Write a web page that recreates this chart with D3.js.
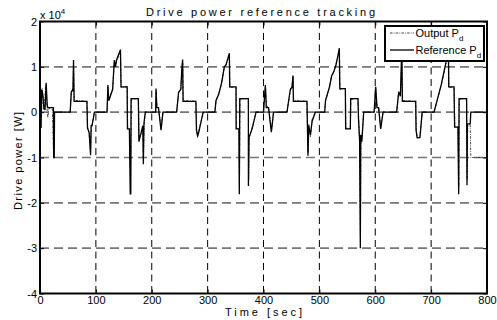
<!DOCTYPE html>
<html><head><meta charset="utf-8">
<script src="https://cdn.jsdelivr.net/npm/d3@7/dist/d3.min.js"></script>
<style>body{margin:0;background:#fff}svg{display:block}text{font-family:"Liberation Sans",Arial,sans-serif}</style>
</head><body><svg id="c" width="497" height="320"></svg>
<script>
const xTicks=[0,100,200,300,400,500,600,700,800];
const xTickLabels=["0","100","200","300","400","500","600","700","800"];
const yTicks=[-40000,-30000,-20000,-10000,0,10000,20000];
const yTickLabels=["-4","-3","-2","-1","0","1","2"];
const titleText="Drive power reference tracking";
const xLabel="Time [sec]";
const yLabel="Drive power [W]";
const seriesNames=["Output P","Reference P"];

// Reference P_d (time s, power W)
const refTime=[0,2,3,5,7,9,11,13,14,22,24,24.5,25.5,26,54,56,59,60,61,84,85,88,90.5,91.5,93,97.5,120,121.5,123,130,133,135,137,144,145,156,156.5,160,161.5,162.5,163,176,177,181,184,185,186,188.5,
207,207.6,209,212,216.6,220,244.6,248,252,254,255.3,256,279,280,282,284,292,313,315,320,325,330,333,338.9,339.5,350.8,351,356,356.7,357.5,372.9,373,374,380,386.6,
400,403.3,405,409,414,418,442,448,451,452.8,453.5,477.8,479.6,481,484,487,492.8,509.5,511,518,522,526,530,535.7,536.5,546.5,547,555.4,556,569.1,570,572,573.3,574,576,579.3,
598,600.8,603,606,609.7,614,638.3,642,645,647.5,648.5,672.4,673,675,680,684,705.2,718,731,731.5,741,742,748,749.3,750,763.5,764.2,765,770,771,800];
const refPower=[0,-3500,5000,4000,1000,500,6500,1500,1000,1000,1000,-10000,-10000,0,0,4500,5000,11500,2400,2400,-3500,-4500,-9500,-3000,-3000,0,0,6000,2500,5000,11500,10000,11500,13800,5600,5600,-3700,-3700,-18000,-18000,3000,3000,-6500,-4500,-3000,-11500,-2500,0,
0,5200,1000,1000,-4000,0,0,4400,5000,10000,11600,2400,2400,-4000,-5200,-4500,0,0,2600,4000,6500,10000,10500,13000,5600,5600,-3700,-3700,-18100,3000,3000,-16300,-5600,-3500,0,
0,6000,1000,1000,-4400,0,0,5000,5500,8100,2400,2400,-9600,-3000,-5000,-2000,0,0,2600,5500,8000,9000,10500,14100,5200,5200,-3700,-3700,3000,3000,-1500,-6300,-30000,-5000,-6500,0,
0,5600,1000,1000,-3700,0,0,4500,3500,14500,2400,2400,-4000,-5600,-5600,0,0,6000,13500,5600,5600,-3300,-3300,-18100,3000,3000,-16100,-2600,-2600,0,0];

// Output P_d (time s, power W)
const outTime=[0,1,2,4,6,8,10,12,14,16,22,24,26,54,56,59,60,61.5,84,85,88,90.5,92,97.5,120,121.5,123,130,133,135,137,144,145.5,156,157,160,162,163.5,176,177.5,181,184,185,186.5,188.5,
207,208,209.5,212,217,220,244.6,248,252,254,255.5,256.5,279,280.5,282,284,292,313,315,320,325,330,333,339,340,351,351.5,356,357,358,373,373.5,374.5,380,386.6,
400,403.5,405.5,409,414.5,418,442,448,451,453,454,477.8,479.8,481,484,487,492.8,509.5,511,518,522,526,530,536,537,546.5,547.5,555.4,556.5,569,570.5,572,573.5,574.5,576,579.3,
598,601,603.5,606,610,614,638.3,642,645,647.8,649,672.4,673.5,675,680,684,705.2,718,731,732,741,742.5,748,749.5,750.5,763.5,764.5,765.5,770,771,800];
const outPower=[0,5500,2000,5200,500,2000,6000,1500,-1200,800,1000,-8000,0,0,4200,4800,10500,2600,2400,-3000,-4800,-8500,-3500,0,0,5500,2800,5200,11000,10200,11200,13200,5400,5600,-3400,-3700,-16500,2800,3000,-6000,-4800,-3300,-10500,-2800,0,
0,4800,1200,1000,-3600,0,0,4200,5200,9500,11000,2600,2400,-3800,-5500,-4200,0,0,2400,4200,6200,10200,10300,12600,5400,5600,-3500,-3700,-16500,2800,3000,-15000,-5800,-3200,0,
0,5500,1500,1000,-4000,0,0,4800,5800,7800,2600,2400,-9000,-2600,-5400,-1600,0,0,2400,5600,8200,8800,10800,13500,5000,5200,-3500,-3700,2800,3000,-1800,-6000,-27000,-5500,-6000,0,
0,5200,1300,1000,-3400,0,0,4300,3800,13000,2600,2400,-3700,-5900,-5300,0,0,5800,13200,5400,5600,-3000,-3300,-16500,2800,3000,-15000,-2800,-2600,-10000,-10000];

const svg=d3.select("#c");
const L=40,R=487,T=21.5,B=293.5;
const x=d3.scaleLinear().domain([0,800]).range([L,R]);
const y=d3.scaleLinear().domain([-40000,20000]).range([B,T]);
svg.append("rect").attr("width",497).attr("height",320).attr("fill","#fff");

// grid
svg.append("g").selectAll("line").data(yTicks.slice(1,-1)).join("line")
  .attr("x1",L).attr("x2",R).attr("y1",d=>y(d)).attr("y2",d=>y(d))
  .attr("stroke","#777").attr("stroke-width",1.6).attr("stroke-dasharray","9,5");
svg.append("g").selectAll("line").data(xTicks.slice(1,-1)).join("line")
  .attr("x1",d=>x(d)).attr("x2",d=>x(d)).attr("y1",T).attr("y2",B)
  .attr("stroke","#000").attr("stroke-width",1).attr("stroke-dasharray","7,4.5");

// data
svg.append("clipPath").attr("id","pc").append("rect").attr("x",L).attr("y",T).attr("width",R-L).attr("height",B-T);
const outData=outTime.map((t,i)=>[t,outPower[i]]);
const refData=refTime.map((t,i)=>[t,refPower[i]]);
const line=d3.line().x(d=>x(d[0])).y(d=>y(d[1]));
const g=svg.append("g").attr("clip-path","url(#pc)");
g.append("path").attr("d",line(outData)).attr("fill","none").attr("stroke","#333").attr("stroke-width",0.9).attr("stroke-dasharray","2.5,1.2,0.8,1.2");
g.append("path").attr("d",line(refData)).attr("fill","none").attr("stroke","#000").attr("stroke-width",1.3).attr("stroke-linejoin","miter");

// axes
function styleAxis(a){a.select(".domain").remove();a.selectAll("line").attr("stroke","#000");a.selectAll("text").attr("font-size",11).attr("font-family","'Liberation Sans',Arial,sans-serif").attr("fill","#000");}
svg.append("g").attr("transform",`translate(0,${B})`).call(d3.axisBottom(x).tickValues(xTicks).tickFormat((d,i)=>xTickLabels[i]).tickSize(-4).tickPadding(3)).call(styleAxis);
svg.append("g").attr("transform",`translate(0,${T})`).call(d3.axisTop(x).tickValues(xTicks).tickFormat("").tickSize(-4)).call(styleAxis);
svg.append("g").attr("transform",`translate(${L},0)`).call(d3.axisLeft(y).tickValues(yTicks).tickFormat((d,i)=>yTickLabels[i]).tickSize(-4).tickPadding(3)).call(styleAxis);
svg.append("g").attr("transform",`translate(${R},0)`).call(d3.axisRight(y).tickValues(yTicks).tickFormat("").tickSize(-4)).call(styleAxis);
svg.append("rect").attr("x",L).attr("y",T).attr("width",R-L).attr("height",B-T).attr("fill","none").attr("stroke","#000").attr("stroke-width",2);

// exponent
const ex=svg.append("text").attr("x",40).attr("y",18.5).attr("font-size",11);
ex.append("tspan").text("x 10");
ex.append("tspan").attr("font-size",8).attr("dy",-5).text("4");

// title and labels
svg.append("text").attr("x",146).attr("y",15.5).attr("font-size",11).attr("textLength",229).attr("lengthAdjust","spacing").text(titleText);
svg.append("text").attr("x",225).attr("y",315.5).attr("font-size",11).attr("textLength",77).attr("lengthAdjust","spacing").text(xLabel);
svg.append("text").attr("transform","translate(22,210) rotate(-90)").attr("font-size",11).attr("textLength",98).attr("lengthAdjust","spacing").text(yLabel);

// legend
const lg=svg.append("g");
lg.append("rect").attr("x",385).attr("y",26).attr("width",99).attr("height",35).attr("fill","#fff").attr("stroke","#000").attr("stroke-width",2);
const rows=[{y:33,dash:"2.5,1.2,0.8,1.2",w:0.9,c:"#333"},{y:50,dash:null,w:1.3,c:"#000"}];
rows.forEach((r,i)=>{
  const l=lg.append("line").attr("x1",390).attr("x2",414).attr("y1",r.y).attr("y2",r.y).attr("stroke",r.c).attr("stroke-width",r.w);
  if(r.dash) l.attr("stroke-dasharray",r.dash);
  const t=lg.append("text").attr("x",415.5).attr("y",r.y+4).attr("font-size",11);
  t.append("tspan").text(seriesNames[i]);
  t.append("tspan").attr("font-size",8).attr("dy",4).text("d");
});
</script></body></html>
